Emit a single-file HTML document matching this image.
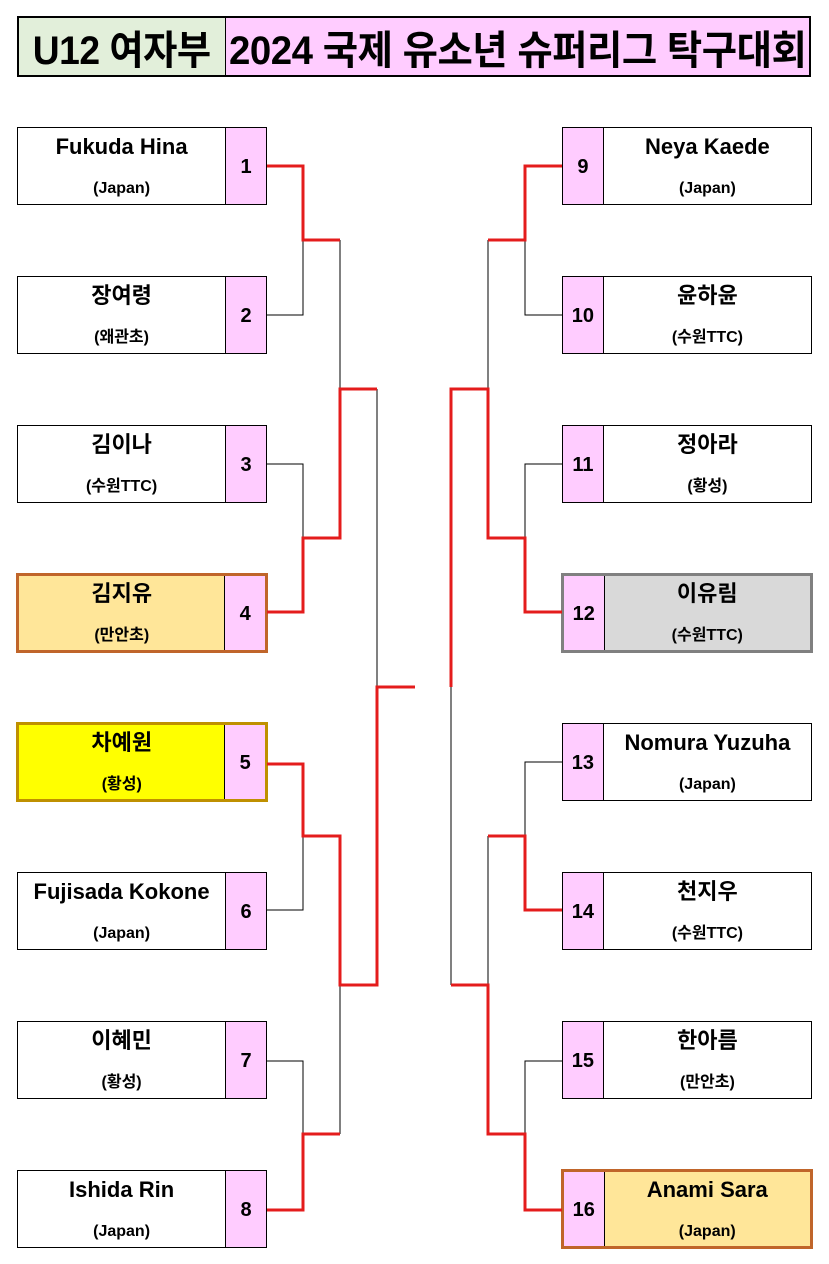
<!DOCTYPE html>
<html><head><meta charset="utf-8"><style>
body{margin:0;width:829px;height:1264px;background:#fff;position:relative;overflow:hidden;font-family:"Liberation Sans","Noto Sans CJK KR",sans-serif;font-weight:bold;color:#000}
.t{position:absolute;top:16px;height:61px;box-sizing:border-box;border:2px solid #000;display:flex;align-items:center;justify-content:center;font-size:40px;letter-spacing:-0.5px;white-space:nowrap}
.t span{display:inline-block}
.b{position:absolute;height:78px;box-sizing:border-box;border:1px solid #000;display:flex}
.nm{width:208px;display:flex;flex-direction:column;align-items:center;justify-content:center;box-sizing:border-box}
.nm .a{font-size:22px;line-height:24px;margin-top:1px}
.nm .c{font-size:16px;line-height:18px;margin-top:21px}
.nu{width:41px;background:#ffccff;display:flex;align-items:center;justify-content:center;font-size:20px;box-sizing:border-box;padding-top:2px}
.L .nu{border-left:1px solid #000}
.R .nu{border-right:1px solid #000}
svg{position:absolute;left:0;top:0}
</style></head><body>
<div class="t" style="left:17px;width:210px;background:#e2efda"><span style="transform:scaleX(0.93)">U12 여자부</span></div>
<div class="t" style="left:225px;width:586px;background:#ffccff;border-left:1px solid #000"><span style="transform:scaleX(0.96)">2024 국제 유소년 슈퍼리그 탁구대회</span></div>

<div class="b L" style="left:17px;top:127px;width:250px"><div class="nm"><div class="a">Fukuda Hina</div><div class="c">(Japan)</div></div><div class="nu">1</div></div>
<div class="b L" style="left:17px;top:276px;width:250px"><div class="nm"><div class="a">장여령</div><div class="c">(왜관초)</div></div><div class="nu">2</div></div>
<div class="b L" style="left:17px;top:425px;width:250px"><div class="nm"><div class="a">김이나</div><div class="c">(수원TTC)</div></div><div class="nu">3</div></div>
<div class="b L" style="left:16px;top:573px;width:252px;height:80px;border:3px solid #c0652a;background:#ffe699"><div class="nm"><div class="a">김지유</div><div class="c">(만안초)</div></div><div class="nu">4</div></div>
<div class="b L" style="left:16px;top:722px;width:252px;height:80px;border:3px solid #bf9000;background:#ffff00"><div class="nm"><div class="a">차예원</div><div class="c">(황성)</div></div><div class="nu">5</div></div>
<div class="b L" style="left:17px;top:872px;width:250px"><div class="nm"><div class="a">Fujisada Kokone</div><div class="c">(Japan)</div></div><div class="nu">6</div></div>
<div class="b L" style="left:17px;top:1021px;width:250px"><div class="nm"><div class="a">이혜민</div><div class="c">(황성)</div></div><div class="nu">7</div></div>
<div class="b L" style="left:17px;top:1170px;width:250px"><div class="nm"><div class="a">Ishida Rin</div><div class="c">(Japan)</div></div><div class="nu">8</div></div>

<div class="b R" style="left:562px;top:127px;width:250px"><div class="nu">9</div><div class="nm"><div class="a">Neya Kaede</div><div class="c">(Japan)</div></div></div>
<div class="b R" style="left:562px;top:276px;width:250px"><div class="nu">10</div><div class="nm"><div class="a">윤하윤</div><div class="c">(수원TTC)</div></div></div>
<div class="b R" style="left:562px;top:425px;width:250px"><div class="nu">11</div><div class="nm"><div class="a">정아라</div><div class="c">(황성)</div></div></div>
<div class="b R" style="left:561px;top:573px;width:252px;height:80px;border:3px solid #808080;background:#d9d9d9"><div class="nu">12</div><div class="nm"><div class="a">이유림</div><div class="c">(수원TTC)</div></div></div>
<div class="b R" style="left:562px;top:723px;width:250px"><div class="nu">13</div><div class="nm"><div class="a">Nomura Yuzuha</div><div class="c">(Japan)</div></div></div>
<div class="b R" style="left:562px;top:872px;width:250px"><div class="nu">14</div><div class="nm"><div class="a">천지우</div><div class="c">(수원TTC)</div></div></div>
<div class="b R" style="left:562px;top:1021px;width:250px"><div class="nu">15</div><div class="nm"><div class="a">한아름</div><div class="c">(만안초)</div></div></div>
<div class="b R" style="left:561px;top:1169px;width:252px;height:80px;border:3px solid #c0652a;background:#ffe699"><div class="nu">16</div><div class="nm"><div class="a">Anami Sara</div><div class="c">(Japan)</div></div></div>

<svg width="829" height="1264">
<g stroke="#000" stroke-width="1" fill="none">
<path d="M267 315H303V240"/><path d="M267 464H303V538"/><path d="M340 240V389"/><path d="M267 910H303V836"/><path d="M267 1061H303V1134"/><path d="M340 1134V985"/><path d="M377 389V687"/>
<path d="M562 315H525V240"/><path d="M562 464H525V538"/><path d="M488 240V389"/><path d="M562 762H525V836"/><path d="M562 1061H525V1134"/><path d="M488 836V985"/><path d="M451 687V985"/>
</g>
<g stroke="#e41c1c" stroke-width="3" fill="none">
<path d="M267 166H303V240H340"/><path d="M267 612H303V538H340V389H377"/><path d="M267 764H303V836H340V985H377V687H415"/><path d="M267 1210H303V1134H340"/>
<path d="M562 166H525V240H488"/><path d="M562 612H525V538H488V389H451V687"/><path d="M562 910H525V836H488"/><path d="M562 1210H525V1134H488V985H451"/>
</g>
</svg>
</body></html>
